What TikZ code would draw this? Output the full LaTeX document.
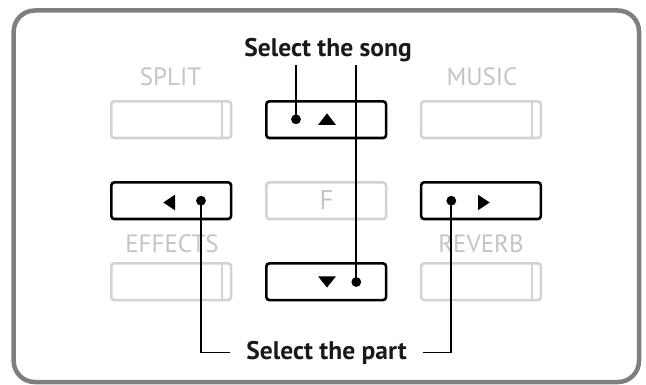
\documentclass[tikz,border=0pt]{standalone}
\usepackage{fontspec}
\setmainfont{PT Sans}
\definecolor{framegray}{HTML}{7F7F7F}
\definecolor{keygray}{HTML}{D3D3D3}
\definecolor{txtgray}{HTML}{C4C4C4}
\begin{document}
\begin{tikzpicture}[x=1pt,y=-1pt,
  frame/.style={draw=framegray, line width=4.5pt, rounded corners=21pt},
  keyb/.style={draw=black, line width=2.6pt, rounded corners=3pt, minimum width=119.7pt, minimum height=36.7pt, inner sep=0pt},
  keyg/.style={draw=keygray, line width=2.6pt, rounded corners=3pt, minimum width=119.7pt, minimum height=36.7pt, inner sep=0pt},
  divider/.style={draw=keygray, line width=2.6pt},
  dot/.style={circle, fill=black, inner sep=0pt, minimum size=9.8pt},
  conn/.style={draw=black, line width=1.7pt},
  lbl/.style={font=\fontsize{25.5}{25.5}\selectfont\bfseries, text=black!90, inner ysep=2.5pt, inner xsep=16pt},
  glbl/.style={font=\fontsize{25}{25}\selectfont, text=txtgray, inner sep=0pt, anchor=base}
]
\useasboundingbox (0,0) rectangle (646,385);
\draw[frame] (13.7,10.5) rectangle (639,382);

% grey keys
\node[keyg] (split) at (171.2,119.7) {};
\node[keyg] (music) at (481,119.7) {};
\node[keyg] (fkey) at (326.2,200.7) {};
\node[keyg] (effects) at (171.2,281.7) {};
\node[keyg] (reverb) at (481,281.7) {};
\draw[divider] ([xshift=-10.3pt]split.north east) -- ([xshift=-10.3pt]split.south east);
\draw[divider] ([xshift=-10pt]music.north east) -- ([xshift=-10pt]music.south east);
\draw[divider] ([xshift=-10.3pt]effects.north east) -- ([xshift=-10.3pt]effects.south east);
\draw[divider] ([xshift=-10pt]reverb.north east) -- ([xshift=-10pt]reverb.south east);

% grey labels
\node[glbl] (splitl) at (170.5,86) {SPLIT};
\node[glbl] (musicl) at (482,86) {MUSIC};
\node[glbl] (effectsl) at (172,252.3) {EFFECTS};
\node[glbl] (reverbl) at (481,252.3) {REVERB};
\node[glbl, font=\fontsize{27}{27}\selectfont] (fl) at (326.5,210) {F};

% black keys
\node[keyb] (up) at (326.2,119.7) {};
\node[keyb] (left) at (171.2,200.7) {};
\node[keyb] (right) at (481,200.7) {};
\node[keyb] (down) at (326.2,281.7) {};

% arrows in keys
\fill (318,125) -- (336,125) -- (327,113.3) -- cycle;
\fill (318,276.3) -- (336,276.3) -- (327,287.5) -- cycle;
\fill (175,194.7) -- (175,210.3) -- (163.3,202.5) -- cycle;
\fill (478,194.7) -- (478,210.3) -- (489.7,202.5) -- cycle;

% dots
\node[dot] (updot) at (296,119.3) {};
\node[dot] (downdot) at (356.3,282) {};
\node[dot] (leftdot) at (201,200.7) {};
\node[dot] (rightdot) at (451.3,200.7) {};

% labels
\node[lbl, anchor=base] (song) at (328,57) {Select the song};
\node[lbl, anchor=base] (part) at (326.5,359) {Select the part};

% connectors
\draw[conn] (updot.center) -- (updot.center |- song.south);
\draw[conn] (downdot.center) -- (downdot.center |- song.south);
\draw[conn] (leftdot.center) |- (part.west);
\draw[conn] (rightdot.center) |- (part.east);
\end{tikzpicture}
\end{document}
